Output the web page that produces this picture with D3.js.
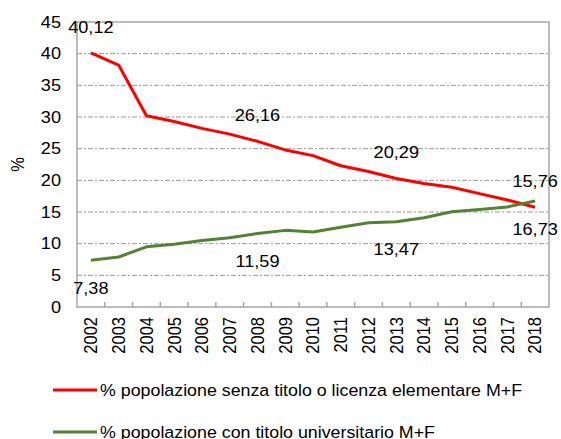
<!DOCTYPE html>
<html>
<head>
<meta charset="utf-8">
<script src="https://cdn.jsdelivr.net/npm/d3@7"></script>
<style>
body { margin: 0; background: #fff; }
text { font-family: "Liberation Sans", Arial, sans-serif; fill: #000; }
</style>
</head>
<body>
<script>
// dati
var anni = ["2002","2003","2004","2005","2006","2007","2008","2009","2010","2011","2012","2013","2014","2015","2016","2017","2018"];
var senzaTitolo = [40.12, 38.2, 30.2, 29.3, 28.2, 27.3, 26.16, 24.8, 23.9, 22.3, 21.4, 20.29, 19.5, 18.9, 17.9, 16.9, 15.76];
var universitari = [7.38, 7.9, 9.5, 9.9, 10.5, 10.95, 11.59, 12.1, 11.85, 12.6, 13.3, 13.47, 14.1, 15.05, 15.4, 15.8, 16.73];
var yTicks = [0, 5, 10, 15, 20, 25, 30, 35, 40, 45];
// etichette visibili: [indice, valore, serie]
var etichette = [
	{i: 0, v: "40,12", s: "r"}, {i: 6, v: "26,16", s: "r"}, {i: 11, v: "20,29", s: "r"}, {i: 16, v: "15,76", s: "r"},
	{i: 0, v: "7,38", s: "g"}, {i: 6, v: "11,59", s: "g"}, {i: 11, v: "13,47", s: "g"}, {i: 16, v: "16,73", s: "g"}
];
var legenda = [
	{nome: "% popolazione senza titolo o licenza elementare M+F", colore: "#ff0000"},
	{nome: "% popolazione con titolo universitario M+F", colore: "#548235"}
];

var width = 561, height = 439;
var margin = {top: 22, left: 77, right: 12, bottom: 132};
var fs = 16.5, sx = 1.1; // testo leggermente allargato

var svg = d3.select("body").append("svg")
	.attr("width", width)
	.attr("height", height);

var x = d3.scaleBand().domain(anni).range([margin.left, width - margin.right]);
var y = d3.scaleLinear().domain([0, 45]).range([height - margin.bottom, margin.top]);
var xc = d => x(d) + x.bandwidth() / 2;

// griglia
svg.append("g").selectAll("line")
	.data(yTicks.filter(t => t > 0 && t < 45))
	.enter().append("line")
	.attr("x1", margin.left).attr("x2", width - margin.right)
	.attr("y1", d => y(d)).attr("y2", d => y(d))
	.attr("stroke", "#999")
	.attr("stroke-width", 1)
	.attr("stroke-dasharray", "5,2,2,2");

// bordo
svg.append("rect")
	.attr("x", margin.left).attr("y", margin.top)
	.attr("width", width - margin.right - margin.left)
	.attr("height", y(0) - margin.top)
	.attr("fill", "none")
	.attr("stroke", "#a6a6a6")
	.attr("stroke-width", 1.5);

// tacche asse x
svg.append("g").selectAll("line")
	.data(anni.slice(1))
	.enter().append("line")
	.attr("x1", d => x(d)).attr("x2", d => x(d))
	.attr("y1", y(0)).attr("y2", y(0) - 5)
	.attr("stroke", "#a6a6a6")
	.attr("stroke-width", 1.5);

// etichette asse y
svg.append("g").selectAll("text")
	.data(yTicks)
	.enter().append("text")
	.attr("transform", d => "translate(" + (margin.left - 16) + "," + y(d) + ") scale(" + sx + ",1)")
	.attr("text-anchor", "end")
	.attr("dy", "0.35em")
	.style("font-size", fs + "px")
	.text(d => d);

// etichette asse x
svg.append("g").selectAll("text")
	.data(anni)
	.enter().append("text")
	.attr("transform", d => "translate(" + xc(d) + "," + (y(0) + 10) + ") rotate(-90) scale(1," + sx + ")")
	.attr("text-anchor", "end")
	.attr("dy", "0.35em")
	.style("font-size", fs + "px")
	.text(d => d);

// titolo asse y
svg.append("text")
	.attr("transform", "translate(18," + ((margin.top + y(0)) / 2) + ") rotate(-90) scale(1," + sx + ")")
	.attr("text-anchor", "middle")
	.attr("dy", "0.35em")
	.style("font-size", fs + "px")
	.text("%");

// linee
var linea = d3.line().x((d, i) => xc(anni[i])).y(d => y(d));
svg.append("path").datum(senzaTitolo)
	.attr("d", linea)
	.attr("fill", "none")
	.attr("stroke", legenda[0].colore)
	.attr("stroke-width", 3)
	.attr("stroke-linejoin", "round");
svg.append("path").datum(universitari)
	.attr("d", linea)
	.attr("fill", "none")
	.attr("stroke", legenda[1].colore)
	.attr("stroke-width", 3)
	.attr("stroke-linejoin", "round");

// etichette dati
svg.append("g").selectAll("text")
	.data(etichette)
	.enter().append("text")
	.attr("transform", d => {
		var v = d.s == "r" ? senzaTitolo[d.i] : universitari[d.i];
		var yy = d.s == "r" ? y(v) - 26 : y(v) + 28;
		return "translate(" + xc(anni[d.i]) + "," + yy + ") scale(" + sx + ",1)";
	})
	.attr("text-anchor", "middle")
	.attr("dy", "0.35em")
	.style("font-size", fs + "px")
	.text(d => d.v);

// legenda
var leg = svg.append("g").selectAll("g")
	.data(legenda)
	.enter().append("g")
	.attr("transform", (d, i) => "translate(53," + (390 + i * 42) + ")");
leg.append("line")
	.attr("x1", 0).attr("x2", 44)
	.attr("stroke", d => d.colore)
	.attr("stroke-width", 3);
leg.append("text")
	.attr("transform", "translate(47,0) scale(1.08,1)")
	.attr("dy", "0.35em")
	.style("font-size", fs + "px")
	.text(d => d.nome);
</script>
</body>
</html>
